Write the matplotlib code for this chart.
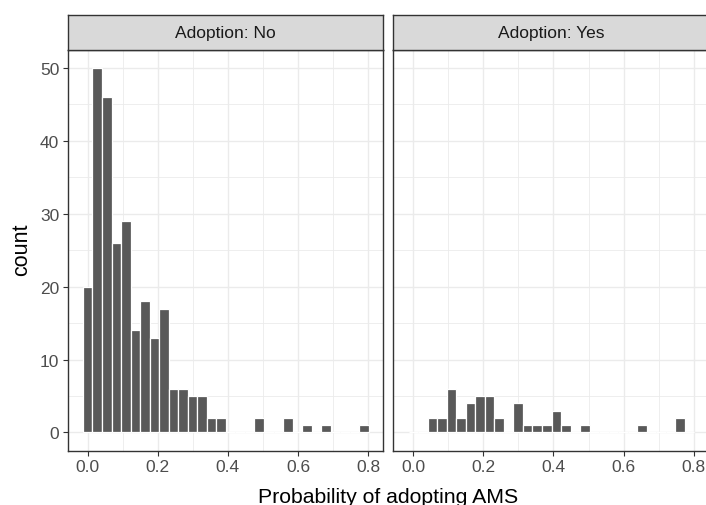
import matplotlib
matplotlib.use("Agg")
import matplotlib.pyplot as plt
import numpy as np

# ---- data ----
bin_width = 0.0272
counts_no = [20, 50, 46, 26, 29, 14, 18, 13, 17, 6,
             6, 5, 5, 2, 2, 0, 0, 0, 2, 0,
             0, 2, 0, 1, 0, 1, 0, 0, 0, 1]
counts_yes = [0, 0, 2, 2, 6, 2, 4, 5, 5, 2,
              0, 4, 1, 1, 1, 3, 1, 0, 1, 0,
              0, 0, 0, 0, 1, 0, 0, 0, 2, 0]
panel_titles = ["Adoption: No", "Adoption: Yes"]
x_ticks = [0.0, 0.2, 0.4, 0.6, 0.8]
x_tick_labels = ["0.0", "0.2", "0.4", "0.6", "0.8"]
x_minor = [0.1, 0.3, 0.5, 0.7]
y_ticks = [0, 10, 20, 30, 40, 50]
y_minor = [5, 15, 25, 35, 45]
x_label = "Probability of adopting AMS"
y_label = "count"

plt.rcParams['font.family'] = ['Liberation Sans', 'DejaVu Sans']

W, H = 706, 506
fig = plt.figure(figsize=(W / 100, H / 100), dpi=100)

def frac(x0, y0, x1, y1):
    return [x0 / W, (H - y1) / H, (x1 - x0) / W, (y1 - y0) / H]

panel_x = [(67.7, 383.3), (393.3, 708.9)]
panel_y = (50.7, 451.7)
strip_y = (15.7, 50.7)

border_col = "#333333"
grid_col = "#EBEBEB"
tick_font = 12.5

centers = np.arange(len(counts_no)) * bin_width

for i, (counts, title) in enumerate(zip([counts_no, counts_yes], panel_titles)):
    x0, x1 = panel_x[i]
    ax = fig.add_axes(frac(x0, panel_y[0], x1, panel_y[1]))
    ax.set_facecolor("white")
    ax.bar(centers, counts, width=bin_width, color="#595959",
           edgecolor="white", linewidth=0.9, zorder=3)
    ax.set_xlim(-0.0571, 0.8436)
    ax.set_ylim(-2.5, 52.5)
    for v in x_minor:
        ax.axvline(v, color=grid_col, lw=0.6, zorder=1)
    for v in y_minor:
        ax.axhline(v, color=grid_col, lw=0.6, zorder=1)
    for v in x_ticks:
        ax.axvline(v, color=grid_col, lw=1.0, zorder=1)
    for v in y_ticks:
        ax.axhline(v, color=grid_col, lw=1.0, zorder=1)
    ax.set_xticks(x_ticks)
    ax.set_xticklabels(x_tick_labels)
    ax.set_yticks(y_ticks)
    ax.tick_params(axis='both', direction='out', length=3.6, width=0.8,
                   color=border_col, labelcolor="#4D4D4D",
                   labelsize=tick_font, pad=2.5)
    if i == 1:
        ax.tick_params(axis='y', left=False, labelleft=False)
    for s in ax.spines.values():
        s.set_color(border_col)
        s.set_linewidth(1.0)
        s.set_zorder(5)

    sax = fig.add_axes(frac(x0, strip_y[0], x1, strip_y[1]))
    sax.set_facecolor("#D9D9D9")
    sax.set_xticks([])
    sax.set_yticks([])
    for s in sax.spines.values():
        s.set_color(border_col)
        s.set_linewidth(1.0)
    sax.text(0.5, 0.48, title, ha='center', va='center',
             fontsize=tick_font, color="#1A1A1A", transform=sax.transAxes)

fig.text(388.5 / W, 1 - 503.3 / H, x_label, ha='center', va='baseline',
         fontsize=15.3, color="black")
fig.text(21.7 / W, 1 - 250 / H, y_label, ha='center', va='center',
         rotation=90, fontsize=15.5, color="black")

fig.savefig("out.png", dpi=100)
